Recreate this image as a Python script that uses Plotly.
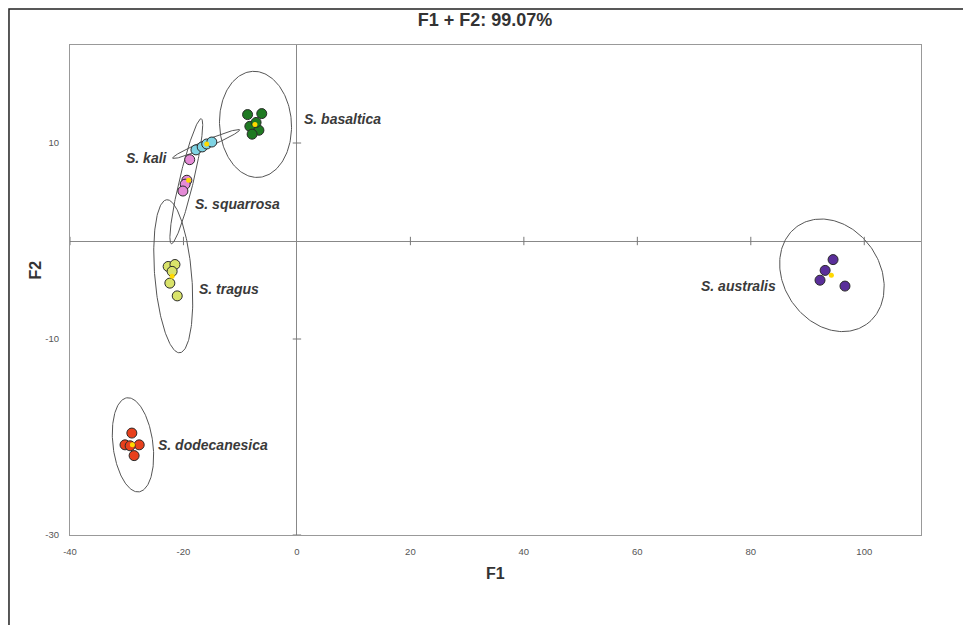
import numpy as np
import plotly.graph_objects as go

# ---------------- data ----------------
species = ["S. basaltica", "S. kali", "S. squarrosa", "S. tragus", "S. dodecanesica", "S. australis"]

basaltica_f1 = [-8.7, -6.2, -8.3, -6.7, -7.9, -7.2]
basaltica_f2 = [12.9, 13.0, 11.7, 11.3, 10.9, 12.1]
kali_f1 = [-17.8, -16.7, -15.9, -15.0]
kali_f2 = [9.3, 9.6, 9.9, 10.1]
squarrosa_f1 = [-18.9, -19.4, -19.7, -20.1]
squarrosa_f2 = [8.3, 6.2, 5.8, 5.1]
tragus_f1 = [-22.7, -21.5, -22.0, -22.4, -21.1]
tragus_f2 = [-2.6, -2.4, -3.1, -4.3, -5.6]
dodecanesica_f1 = [-29.1, -30.3, -27.8, -28.7, -29.4]
dodecanesica_f2 = [-19.6, -20.8, -20.8, -21.9, -20.9]
australis_f1 = [94.5, 93.1, 92.2, 96.6]
australis_f2 = [-1.9, -3.0, -4.0, -4.6]

# centroids (F1, F2)
centroid_f1 = [-7.4, -15.9, -19.1, -22.0, -29.0, 94.2]
centroid_f2 = [11.9, 9.9, 6.2, -3.6, -20.8, -3.5]

# confidence ellipses: centre + two conjugate half-axis vectors (data units)
ell_cx = [-7.3, -16.0, -19.5, -21.8, -28.9, 94.3]
ell_cy = [11.9, 9.9, 6.1, -3.6, -20.8, -3.5]
ell_u = [(-0.53, 5.41), (5.9, 1.45), (2.63, 6.38), (-1.15, 7.81), (-1.06, 4.8), (6.07, -5.01)]
ell_v = [(6.33, 0.21), (0.24, -0.33), (1.2, -0.17), (3.24, 0.16), (3.49, 0.26), (-6.93, -2.81)]

# labels
label_f1 = [0.9, -22.4, -18.3, -17.6, -24.8, 84.8]
label_f2 = [12.4, 8.5, 3.8, -4.9, -20.8, -4.6]
label_anchor = ["left", "right", "left", "left", "left", "right"]

colors = ["#1f7a22", "#7fd3e3", "#e48ad6", "#d9e36a", "#e8401c", "#5a2e9a"]

x_ticks = [-40, -20, 0, 20, 40, 60, 80, 100]
y_ticks = [-30, -10, 10]
x_tick_text = [str(v) for v in x_ticks]
y_tick_text = [str(v) for v in y_ticks]
x_range = [-40, 110]
y_range = [-30, 20]

title_text = "F1 + F2: 99.07%"

FONT = "Liberation Sans Narrow, Liberation Sans, Arial"

# ---------------- figure ----------------
fig = go.Figure()

point_f1 = [basaltica_f1, kali_f1, squarrosa_f1, tragus_f1, dodecanesica_f1, australis_f1]
point_f2 = [basaltica_f2, kali_f2, squarrosa_f2, tragus_f2, dodecanesica_f2, australis_f2]

# ellipses
t = np.linspace(0, 2 * np.pi, 200)
for i in range(len(species)):
    ex = ell_cx[i] + ell_u[i][0] * np.cos(t) + ell_v[i][0] * np.sin(t)
    ey = ell_cy[i] + ell_u[i][1] * np.cos(t) + ell_v[i][1] * np.sin(t)
    fig.add_trace(go.Scatter(x=ex, y=ey, mode="lines",
                             line=dict(color="#555555", width=1),
                             hoverinfo="skip", showlegend=False))

# small tick marks on the zero lines
fig.add_trace(go.Scatter(x=[v for v in x_ticks if v != 0], y=[0] * (len(x_ticks) - 1),
                         mode="markers", marker=dict(symbol="line-ns", size=6,
                                                     line=dict(color="#777777", width=1)),
                         hoverinfo="skip", showlegend=False))
fig.add_trace(go.Scatter(x=[0] * len(y_ticks), y=y_ticks,
                         mode="markers", marker=dict(symbol="line-ew", size=6,
                                                     line=dict(color="#777777", width=1)),
                         hoverinfo="skip", showlegend=False))

# points
for i in range(len(species)):
    fig.add_trace(go.Scatter(x=point_f1[i], y=point_f2[i], mode="markers",
                             name=species[i],
                             marker=dict(size=10, color=colors[i],
                                         line=dict(color="#2a2a2a", width=1)),
                             showlegend=False))

# centroids
fig.add_trace(go.Scatter(x=centroid_f1, y=centroid_f2, mode="markers",
                         marker=dict(size=5, color="#ffd800", line=dict(width=0)),
                         showlegend=False, hoverinfo="skip"))

# species labels
for i in range(len(species)):
    fig.add_annotation(x=label_f1[i], y=label_f2[i], text="<b><i>" + species[i] + "</i></b>",
                       showarrow=False, xanchor=label_anchor[i], yanchor="middle",
                       font=dict(family="Liberation Sans, Arial", size=14, color="#3a3a3a"))

# axis titles
fig.add_annotation(x=0.5, y=-0.078, xref="paper", yref="paper", text="<b>F1</b>",
                   showarrow=False, xanchor="center", yanchor="middle",
                   font=dict(family=FONT, size=16, color="#333333"))
fig.add_annotation(x=-0.041, y=0.54, xref="paper", yref="paper", text="<b>F2</b>",
                   showarrow=False, textangle=-90, xanchor="center", yanchor="middle",
                   font=dict(family=FONT, size=16, color="#333333"))

# outer frame
fig.add_shape(type="rect", xref="paper", yref="paper", x0=-0.0717, y0=-0.4, x1=1.2, y1=1.0735,
              line=dict(color="#222222", width=1.5), layer="below")

fig.update_layout(
    width=971, height=625,
    margin=dict(l=62, r=58, t=37, b=98),
    paper_bgcolor="white", plot_bgcolor="white",
    title=dict(text="<b>" + title_text + "</b>", x=(485 - 8) / 971, xanchor="center",
               y=1 - 12 / 625, yanchor="middle", yref="container",
               font=dict(family=FONT, size=18, color="#333333")),
    xaxis=dict(range=x_range, tickvals=x_ticks, ticktext=x_tick_text, showgrid=False,
               zeroline=True, zerolinecolor="#888888", zerolinewidth=1,
               showline=True, mirror=True, linecolor="#999999", linewidth=1,
               ticks="", ticklabelstandoff=8,
               tickfont=dict(family=FONT, size=9.5, color="#555555"),
               fixedrange=True),
    yaxis=dict(range=y_range, tickvals=y_ticks, ticktext=y_tick_text, showgrid=False,
               zeroline=True, zerolinecolor="#888888", zerolinewidth=1,
               showline=True, mirror=True, linecolor="#999999", linewidth=1,
               ticks="", ticklabelstandoff=8,
               tickfont=dict(family=FONT, size=9.5, color="#555555"),
               fixedrange=True),
)

fig.write_html("out.html")
